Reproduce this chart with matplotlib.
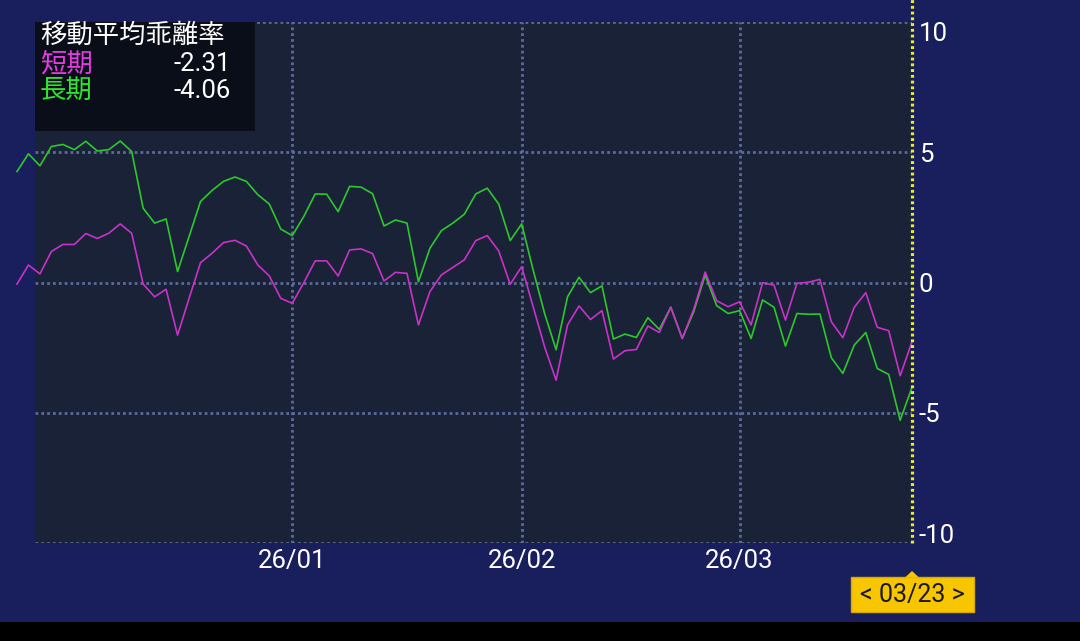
import matplotlib
matplotlib.use("Agg")
import matplotlib.pyplot as plt
from matplotlib.patches import Rectangle, Polygon
import numpy as np

plt.rcParams['font.family'] = ['Roboto', 'Noto Sans CJK JP', 'DejaVu Sans']

# data
short_term = [-0.06, 0.67, 0.33, 1.19, 1.46, 1.46, 1.88, 1.69, 1.89, 2.25, 1.89,
              -0.06, -0.55, -0.26, -2.02, -0.61, 0.76,
              1.12, 1.53, 1.62, 1.40, 0.67, 0.25, -0.61, -0.80, -0.01, 0.83, 0.83, 0.25, 1.25, 1.29, 1.11,
              0.06, 0.39, 0.35, -1.63, -0.35, 0.29, 0.58, 0.87, 1.61, 1.80, 1.21, -0.07, 0.61, -0.93, -2.47, -3.75,
              -1.63, -0.90, -1.42, -1.08, -2.94, -2.62, -2.57, -1.67, -1.92, -0.95, -2.15, -1.03, 0.40, -0.70, -0.93, -0.74,
              -1.63, -0.01, -0.10, -1.44, -0.03, 0.01, 0.12, -1.51, -2.12, -0.95, -0.39, -1.72, -1.85, -3.58, -2.31]
long_term = [4.26, 4.94, 4.48, 5.22, 5.30, 5.10, 5.42, 5.05, 5.10, 5.43, 5.03,
             2.85, 2.28, 2.44, 0.42, 1.76, 3.11,
             3.53, 3.88, 4.05, 3.88, 3.37, 3.01, 2.05, 1.80, 2.53, 3.40, 3.39, 2.72, 3.69, 3.66, 3.41,
             2.17, 2.40, 2.28, 0.03, 1.31, 1.99, 2.28, 2.62, 3.40, 3.62, 3.01, 1.61, 2.25, 0.48, -1.19, -2.58,
             -0.55, 0.20, -0.39, -0.13, -2.17, -1.98, -2.11, -1.35, -1.80, -0.95, -2.15, -1.12, 0.29, -0.89, -1.19, -1.08,
             -2.15, -0.67, -0.95, -2.44, -1.19, -1.22, -1.21, -2.89, -3.49, -2.40, -1.92, -3.30, -3.53, -5.29, -4.06]
month_idx = [24, 44, 63]
month_labels = ["26/01", "26/02", "26/03"]
y_ticks = [10, 5, 0, -5, -10]
y_labels = ["10", "5", "0", "-5", "-10"]
title = "移動平均乖離率"
short_name = "短期"
long_name = "長期"
cursor_label = "< 03/23 >"

W, H = 1080, 641
NAVY = '#191e5c'
PANEL = '#1a2237'
GRID = '#5a6a9a'
MAGENTA = '#c832c8'
GREEN = '#2cc82c'

def fx(px):
    return px / W

def fy(py):
    return 1 - py / H

fig = plt.figure(figsize=(W / 100, H / 100), dpi=100, facecolor=NAVY)
ax = fig.add_axes([fx(35), fy(543), fx(912) - fx(35), fy(22) - fy(543)])
ax.set_facecolor(PANEL)

x = np.arange(len(short_term))
last = len(short_term) - 1
ax.set_xlim(1.57, last + 0.03)
ax.set_ylim(-10, 10)

# grid
for v in y_ticks:
    ax.axhline(v, color=GRID, lw=2.0, ls=(0, (1.0, 1.1)), zorder=1)
for i in month_idx:
    ax.axvline(i, color=GRID, lw=2.0, ls=(0, (1.0, 1.1)), zorder=1)

ax.plot(x, long_term, color=GREEN, lw=1.2, clip_on=False, zorder=3)
ax.plot(x, short_term, color=MAGENTA, lw=1.2, clip_on=False, zorder=3)

# cursor line
ax.plot([last, last], [-10, 10.9], color='#e8ec20', lw=2.3, ls=(0, (0.9, 0.9)),
        clip_on=False, zorder=4)

for s in ax.spines.values():
    s.set_visible(False)

ax.yaxis.tick_right()
ax.set_yticks(y_ticks)
ax.set_yticklabels(y_labels)
ax.tick_params(axis='y', length=0, pad=5, labelsize=18.5, labelcolor='white')
lbls = ax.get_yticklabels()
lbls[0].set_va('top')
lbls[-1].set_va('baseline')
ax.set_xticks(month_idx)
ax.set_xticklabels(month_labels)
ax.tick_params(axis='x', length=0, pad=4, labelsize=18.5, labelcolor='white')

# legend box
ax.add_patch(Rectangle((fx(35), fy(131)), fx(255) - fx(35), fy(22) - fy(131),
                       transform=fig.transFigure, facecolor='#0a0e18', edgecolor='none',
                       zorder=5, clip_on=False))
fig.text(fx(40), fy(36), title, color='white', fontsize=19, va='center', ha='left', zorder=6)
fig.text(fx(40), fy(64), short_name, color='#e23ce2', fontsize=19, va='center', ha='left')
fig.text(fx(40), fy(91), long_name, color='#2ee62e', fontsize=19, va='center', ha='left')
fig.text(fx(231), fy(64), f"{short_term[-1]:.2f}", color='white', fontsize=18.5, va='center', ha='right')
fig.text(fx(231), fy(91), f"{long_term[-1]:.2f}", color='white', fontsize=18.5, va='center', ha='right')

# cursor date tooltip
fig.patches.append(Rectangle((fx(851), fy(612)), fx(974) - fx(851), fy(577) - fy(612),
                             transform=fig.transFigure, facecolor='#f7c600',
                             edgecolor='#d8aa00', lw=1))
fig.patches.append(Polygon([(fx(905), fy(577.5)), (fx(912), fy(571)), (fx(919), fy(577.5))],
                           closed=True, transform=fig.transFigure, facecolor='#f7c600',
                           edgecolor='none'))
fig.text(fx(912.5), fy(595), cursor_label, color='#1a1a1a', fontsize=18, ha='center', va='center')

# bottom bar
fig.patches.append(Rectangle((0, 0), 1, fy(622), transform=fig.transFigure,
                             facecolor='black', edgecolor='none'))

fig.savefig("out.png", dpi=100, facecolor=NAVY)
